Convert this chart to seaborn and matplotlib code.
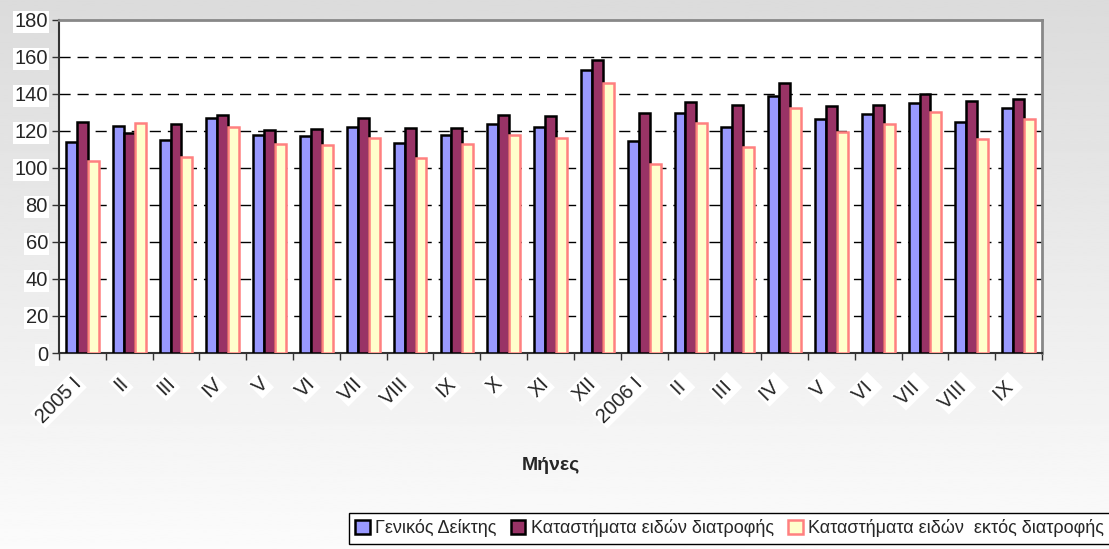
import numpy as np
import pandas as pd
import matplotlib
matplotlib.use('Agg')
import matplotlib.pyplot as plt
import matplotlib.transforms as mtransforms
import seaborn as sns

# Months (Roman numerals), 2005 I .. 2006 IX
months = ['2005 I', 'II', 'III', 'IV', 'V', 'VI', 'VII', 'VIII', 'IX', 'X', 'XI', 'XII',
          '2006 I', 'II ', 'III ', 'IV ', 'V ', 'VI ', 'VII ', 'VIII ', 'IX ']

general = [114.2, 122.7, 115.1, 126.9, 118.0, 117.5, 122.0, 113.3, 117.8, 123.8, 122.3, 153.0,
           114.8, 129.9, 122.0, 139.1, 126.3, 129.4, 135.1, 125.0, 132.3]
food = [125.0, 118.7, 123.8, 128.5, 120.5, 120.9, 126.9, 121.4, 121.4, 128.8, 128.3, 158.4,
        129.9, 135.8, 134.0, 146.1, 133.2, 134.1, 139.8, 136.2, 137.3]
non_food = [104.0, 124.2, 105.8, 122.3, 113.0, 112.4, 116.0, 105.2, 112.8, 117.7, 116.0, 145.8,
            102.2, 124.2, 111.2, 132.6, 119.3, 123.8, 130.1, 115.5, 126.6]

series_names = ['Γενικός Δείκτης', 'Καταστήματα ειδών διατροφής', 'Καταστήματα ειδών  εκτός διατροφής']
fill_colors = ['#9999ff', '#993366', '#ffffcc']
edge_colors = ['#000000', '#000000', '#ff8080']

df = pd.DataFrame({
    'month': months * 3,
    'value': general + food + non_food,
    'series': [s for s in series_names for _ in months],
})

sns.set_theme(style='white')
plt.rcParams['font.family'] = ['Liberation Sans', 'DejaVu Sans']

fig = plt.figure(figsize=(11.09, 5.49), dpi=100)

# grey gradient background
bg = fig.add_axes([0, 0, 1, 1], zorder=-10)
grad = np.linspace(0.86, 0.985, 256).reshape(-1, 1)
bg.imshow(grad, aspect='auto', cmap='gray', vmin=0, vmax=1, extent=[0, 1, 1, 0])
bg.axis('off')

ax = fig.add_axes([0.0532, 0.357, 0.8864, 0.6068])
ax.set_facecolor('white')

sns.barplot(data=df, x='month', y='value', hue='series', order=months,
            hue_order=series_names, palette=fill_colors, width=0.7,
            saturation=1, legend=False, ax=ax, zorder=3)

for cont, ec, name in zip(ax.containers, edge_colors, series_names):
    for p in cont:
        p.set_edgecolor(ec)
        p.set_linewidth(1.8)
    cont.set_label(name)

ax.set_ylim(0, 180)
ax.set_xlim(-0.5, len(months) - 0.5)
ax.set_yticks(range(0, 181, 20))
for y in range(20, 180, 20):
    ax.axhline(y, color='black', lw=1, ls=(0, (8, 5)), zorder=1)

# spines
for s in ['top', 'right']:
    ax.spines[s].set_color('#888888')
    ax.spines[s].set_linewidth(2)
ax.spines['left'].set_color('#333333')
ax.spines['left'].set_linewidth(1.5)
ax.spines['bottom'].set_color('#333333')
ax.spines['bottom'].set_linewidth(1.5)

ax.tick_params(axis='y', which='major', left=True, length=5, width=1, color='#333333',
               labelsize=14.5, pad=3)
for lbl in ax.get_yticklabels():
    lbl.set_bbox(dict(facecolor='white', edgecolor='none', pad=1))

ax.set_xticks(range(len(months)))
ax.set_xticklabels(months, rotation=45, ha='right', rotation_mode='anchor', fontsize=14.5)
ax.set_xticks(np.arange(-0.5, len(months), 1), minor=True)
ax.tick_params(axis='x', which='major', length=0, pad=15)
ax.tick_params(axis='x', which='minor', bottom=True, length=5, width=1, color='#333333')
shift = mtransforms.ScaledTranslation(-0.11, 0, fig.dpi_scale_trans)
for lbl in ax.get_xticklabels():
    lbl.set_bbox(dict(facecolor='white', edgecolor='none', pad=1))
    lbl.set_transform(lbl.get_transform() + shift)

ax.set_xlabel('Μήνες', fontsize=14, fontweight='bold', labelpad=22)
ax.set_ylabel('')

handles = [ax.containers[i] for i in range(3)]
leg = fig.legend(handles, series_names, loc='lower right', bbox_to_anchor=(1.006, 0.0),
                 ncol=3, fontsize=13, frameon=True, fancybox=False,
                 handlelength=0.8, handleheight=0.8, handletextpad=0.3,
                 columnspacing=0.8, borderpad=0.35, borderaxespad=0.3)
leg.get_frame().set_edgecolor('black')
leg.get_frame().set_linewidth(1)
leg.get_frame().set_facecolor('white')
leg.get_frame().set_alpha(1)

fig.savefig('out.png', dpi=100)
plt.close(fig)
